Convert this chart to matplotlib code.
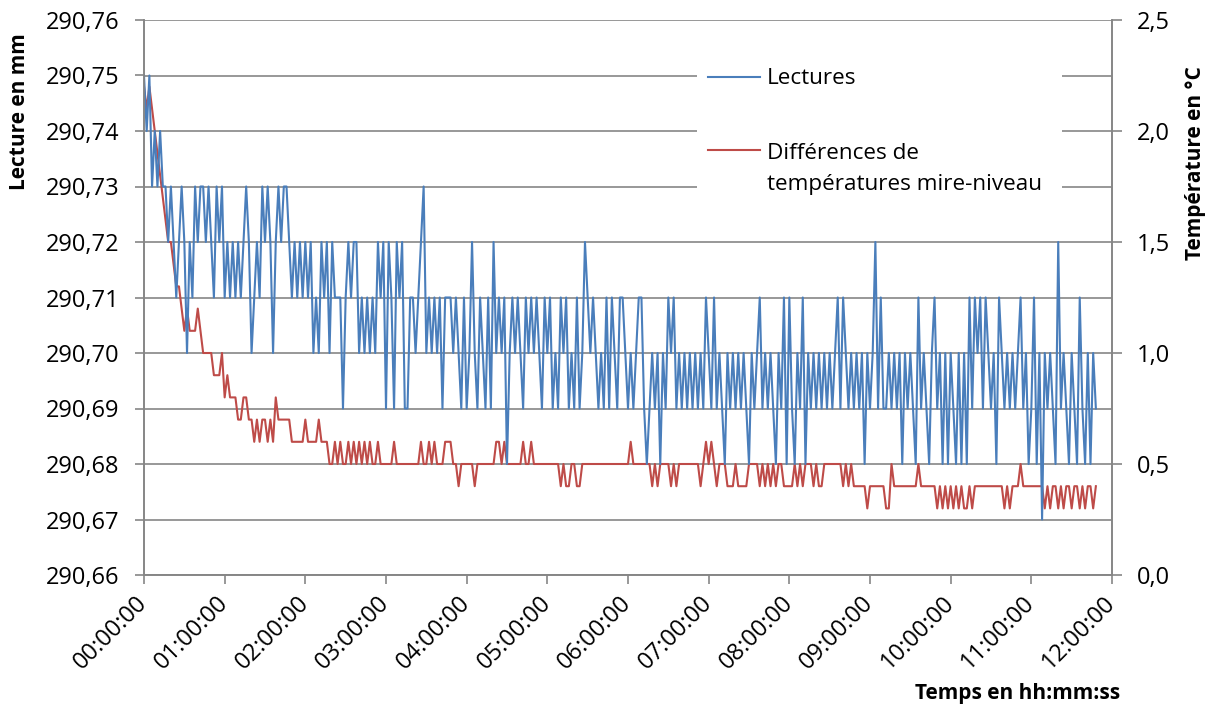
import numpy as np
import matplotlib.pyplot as plt
from matplotlib.ticker import MultipleLocator, FuncFormatter
from matplotlib.patches import Rectangle
from matplotlib.lines import Line2D

plt.rcParams['font.family'] = ['Open Sans', 'DejaVu Sans']

# ── COULEURS ──────────────────────────────────────────────────────────────────
BLUE = "#4a7ebb"
RED = "#be4b48"
GRID = "#868686"

# ── DONNÉES (un relevé toutes les 2 minutes) ──────────────────────────────────
PAS_MIN = 2

# lectures : centièmes de mm au-dessus de 290 mm
lectures = [
    75, 74, 75, 73, 74, 73, 74, 73, 73, 72, 73, 72, 71, 72, 73, 72, 70, 72, 71, 73, 72, 73, 73, 72, 73, 72, 71, 73, 72, 73,  # 00h
    71, 72, 71, 72, 71, 72, 71, 72, 73, 72, 70, 71, 72, 71, 73, 72, 73, 72, 70, 72, 73, 72, 73, 73, 72, 71, 72, 71, 72, 71,  # 01h
    72, 71, 72, 70, 71, 70, 72, 71, 72, 70, 72, 71, 71, 71, 69, 71, 72, 71, 72, 72, 70, 71, 70, 71, 70, 71, 70, 72, 71, 72,  # 02h
    69, 72, 71, 69, 72, 71, 72, 69, 69, 71, 71, 70, 71, 72, 73, 70, 71, 70, 71, 70, 71, 69, 71, 71, 71, 70, 71, 70, 69, 71,  # 03h
    69, 70, 72, 70, 69, 71, 70, 69, 71, 69, 72, 70, 71, 70, 71, 68, 70, 71, 70, 71, 70, 69, 71, 70, 71, 70, 71, 70, 69, 71,  # 04h
    70, 71, 69, 70, 69, 71, 70, 71, 69, 70, 69, 71, 69, 70, 72, 71, 70, 71, 70, 69, 70, 69, 71, 69, 71, 70, 69, 71, 71, 70,  # 05h
    69, 70, 69, 70, 71, 71, 69, 68, 69, 70, 69, 70, 68, 70, 69, 71, 70, 71, 69, 70, 69, 70, 69, 70, 69, 70, 69, 70, 69, 71,  # 06h
    70, 69, 71, 69, 70, 69, 68, 70, 69, 70, 69, 70, 69, 70, 69, 68, 70, 69, 70, 71, 69, 70, 69, 70, 69, 68, 70, 69, 71, 68,  # 07h
    71, 69, 68, 70, 69, 71, 68, 70, 69, 70, 69, 70, 69, 70, 69, 70, 69, 70, 71, 69, 71, 70, 69, 70, 69, 70, 69, 70, 68, 70,  # 08h
    69, 70, 72, 69, 71, 69, 69, 70, 69, 70, 69, 70, 68, 70, 69, 70, 69, 68, 71, 69, 70, 69, 68, 70, 71, 69, 70, 68, 70, 68,  # 09h
    70, 69, 68, 70, 68, 70, 68, 71, 69, 71, 70, 71, 69, 71, 70, 69, 70, 68, 71, 70, 69, 70, 69, 70, 69, 70, 71, 69, 70, 68,  # 10h
    69, 71, 68, 70, 67, 70, 69, 70, 69, 68, 72, 69, 70, 69, 68, 70, 69, 68, 71, 69, 68, 70, 68, 70, 69,                      # 11h
]

# différences de températures mire-niveau : dixièmes de °C
diff_temp = [
    22, 21, 22, 21, 20, 19, 18, 17, 16, 15, 15, 14, 13, 13, 12, 11, 12, 11, 11, 11, 12, 11, 10, 10, 10, 10, 9, 9, 9, 10,  # 00h
    8, 9, 8, 8, 8, 7, 7, 8, 8, 7, 7, 6, 7, 6, 7, 7, 6, 7, 6, 8, 7, 7, 7, 7, 7, 6, 6, 6, 6, 6,                          # 01h
    7, 6, 6, 6, 6, 7, 6, 6, 6, 5, 5, 6, 5, 6, 5, 5, 6, 5, 6, 5, 6, 5, 6, 5, 6, 5, 5, 6, 5, 5,                          # 02h
    5, 5, 5, 6, 5, 5, 5, 5, 5, 5, 5, 5, 5, 6, 5, 5, 6, 5, 6, 5, 5, 5, 6, 6, 6, 5, 5, 4, 5, 5,                          # 03h
    5, 5, 5, 4, 5, 5, 5, 5, 5, 5, 5, 6, 6, 5, 6, 5, 5, 5, 5, 5, 5, 6, 5, 5, 6, 5, 5, 5, 5, 5,                          # 04h
    5, 5, 5, 5, 5, 4, 5, 4, 4, 5, 5, 4, 4, 5, 5, 5, 5, 5, 5, 5, 5, 5, 5, 5, 5, 5, 5, 5, 5, 5,                          # 05h
    5, 6, 5, 5, 5, 5, 5, 5, 5, 4, 5, 4, 5, 5, 5, 5, 4, 5, 4, 5, 5, 5, 5, 5, 5, 5, 5, 4, 5, 6,                          # 06h
    5, 6, 5, 4, 5, 5, 5, 4, 4, 4, 5, 4, 4, 4, 4, 5, 5, 5, 5, 4, 5, 4, 5, 4, 5, 4, 5, 5, 4, 4,                          # 07h
    4, 4, 5, 4, 5, 4, 5, 5, 5, 4, 5, 4, 4, 5, 5, 5, 5, 5, 5, 5, 4, 5, 4, 5, 4, 4, 4, 4, 4, 3,                          # 08h
    4, 4, 4, 4, 4, 4, 3, 3, 5, 4, 4, 4, 4, 4, 4, 4, 4, 4, 5, 4, 4, 4, 4, 4, 4, 3, 4, 3, 4, 3,                          # 09h
    4, 3, 4, 3, 4, 3, 3, 4, 3, 4, 4, 4, 4, 4, 4, 4, 4, 4, 4, 4, 3, 4, 3, 4, 4, 4, 5, 4, 4, 4,                          # 10h
    4, 4, 4, 4, 4, 3, 4, 3, 4, 4, 3, 4, 3, 4, 4, 3, 4, 4, 3, 4, 3, 4, 4, 3, 4,                                         # 11h
]

heures_ticks = list(range(13))
labels_ticks = [f"{h:02d}:00:00" for h in heures_ticks]

t_h = np.arange(len(lectures)) * PAS_MIN / 60
lect_mm = 290 + np.array(lectures) / 100
temp_c = np.array(diff_temp) / 10

# ── FIGURE ────────────────────────────────────────────────────────────────────
W, H = 1216, 709
fig = plt.figure(figsize=(W / 100, H / 100), dpi=100)
ax = fig.add_axes([144 / W, 1 - 575 / H, (1112 - 144) / W, 555 / H])
ax2 = ax.twinx()
# grille + courbe rouge dessous, lectures bleues dessus
ax2.set_zorder(0)
ax.set_zorder(1)
ax.patch.set_visible(False)

ax2.plot(t_h, temp_c, color=RED, lw=1.5, solid_joinstyle="round")
ax.plot(t_h, lect_mm, color=BLUE, lw=1.5, solid_joinstyle="round")

ax.set_xlim(0, 12)
ax.set_xticks(heures_ticks)
ax.set_xticklabels(labels_ticks)
ax.set_ylim(290.66, 290.76)
ax.yaxis.set_major_locator(MultipleLocator(0.01))
ax.yaxis.set_major_formatter(FuncFormatter(lambda v, p: f"{v:.2f}".replace(".", ",")))

ax2.set_ylim(0, 2.5)
ax2.yaxis.set_major_locator(MultipleLocator(0.5))
ax2.yaxis.set_minor_locator(MultipleLocator(0.25))
ax2.yaxis.set_major_formatter(FuncFormatter(lambda v, p: f"{v:.1f}".replace(".", ",")))
ax2.grid(which="both", axis="y", color=GRID, lw=1.2)

for a in (ax, ax2):
    a.spines["top"].set_visible(False)
    for s in ("left", "bottom", "right"):
        a.spines[s].set_color(GRID)
        a.spines[s].set_linewidth(1.2)

ax.tick_params(axis="y", length=6.5, width=1.2, color=GRID, labelsize=17, pad=11)
ax.tick_params(axis="x", length=6.5, width=1.2, color=GRID, labelsize=17, pad=11)
ax2.tick_params(axis="y", which="major", length=7, width=1.2, color=GRID, labelsize=17, pad=11)
ax2.tick_params(axis="y", which="minor", length=0)

for lab in ax.get_xticklabels():
    lab.set_rotation(45)
    lab.set_ha("right")
    lab.set_va("center")
    lab.set_rotation_mode("anchor")

# ── LÉGENDE (fond blanc sur la grille) ────────────────────────────────────────
ax.add_patch(Rectangle((0.571, 0.667), 0.377, 0.265, transform=ax.transAxes,
                       fc="white", ec="none", zorder=5))
ax.add_line(Line2D([0.583, 0.636], [0.897, 0.897], transform=ax.transAxes,
                   color=BLUE, lw=1.5, zorder=6))
ax.add_line(Line2D([0.583, 0.636], [0.766, 0.766], transform=ax.transAxes,
                   color=RED, lw=1.5, zorder=6))
ax.text(0.6436, 0.8847, "Lectures", transform=ax.transAxes, fontsize=16.2,
        va="baseline", zorder=7)
ax.text(0.6436, 0.7495, "Différences de", transform=ax.transAxes, fontsize=16.2,
        va="baseline", zorder=7)
ax.text(0.6436, 0.6937, "températures mire-niveau", transform=ax.transAxes,
        fontsize=16.2, va="baseline", zorder=7)

# ── TITRES D'AXES ─────────────────────────────────────────────────────────────
fig.text(20 / W, 1 - 112 / H, "Lecture en mm", rotation=90, ha="center",
         va="center", fontsize=15, fontweight="bold")
fig.text(1195 / W, 1 - 163 / H, "Température en °C", rotation=90, ha="center",
         va="center", fontsize=15, fontweight="bold")
fig.text(1018 / W, 1 - 693 / H, "Temps en hh:mm:ss", ha="center",
         va="center", fontsize=15, fontweight="bold")

fig.savefig("out.png", dpi=100)
print("saved out.png")
